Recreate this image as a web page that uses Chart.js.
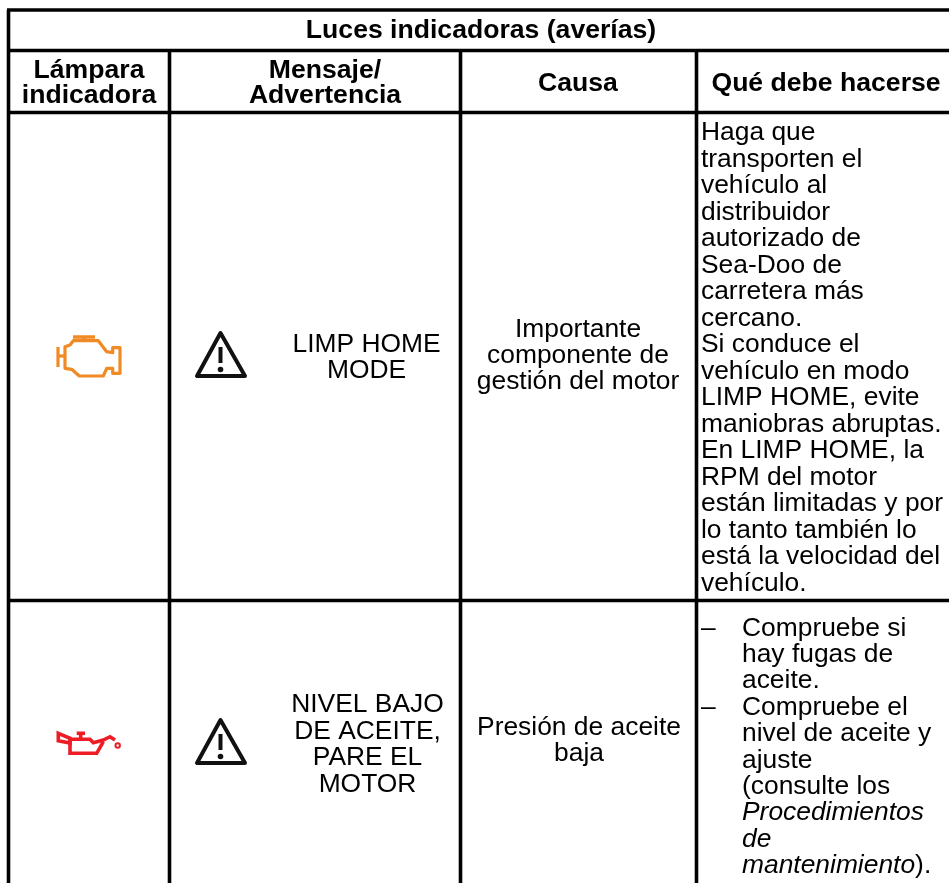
<!DOCTYPE html>
<html>
<head>
<meta charset="utf-8">
<script src="https://cdn.jsdelivr.net/npm/chart.js@4"></script>
<style>
  html, body { margin: 0; padding: 0; background: #fff; }
  #wrap { width: 949px; height: 883px; }
</style>
</head>
<body>
<div id="wrap"><canvas id="myChart" width="949" height="883"></canvas></div>
<script>
// table content
var title = "Luces indicadoras (averías)";
var headers = [["Lámpara", "indicadora"], ["Mensaje/", "Advertencia"], ["Causa"], ["Qué debe hacerse"]];
var messages = [["LIMP HOME", "MODE"], ["NIVEL BAJO", "DE ACEITE,", "PARE EL", "MOTOR"]];
var causes = [["Importante", "componente de", "gestión del motor"], ["Presión de aceite", "baja"]];
var actionsFirst = ["Haga que", "transporten el", "vehículo al", "distribuidor", "autorizado de", "Sea-Doo de",
  "carretera más", "cercano.", "Si conduce el", "vehículo en modo", "LIMP HOME, evite", "maniobras abruptas.",
  "En LIMP HOME, la", "RPM del motor", "están limitadas y por", "lo tanto también lo", "está la velocidad del", "vehículo."];
var actionsSecond = [["–", "Compruebe si"], ["", "hay fugas de"], ["", "aceite."], ["–", "Compruebe el"],
  ["", "nivel de aceite y"], ["", "ajuste"], ["", "(consulte los"], ["", "Procedimientos", "i"], ["", "de", "i"],
  ["", "mantenimiento", "i", ")."]];

// layout, in page pixels
var colEdges = [8.5, 169.5, 460.5, 696.5];
var rowEdges = [10, 50.5, 112.5, 600.5];
var pageW = 949, pageH = 883;
var fontFamily = '"Liberation Sans", Arial, sans-serif';

function rule(x1, y1, x2, y2) {
  return { type: 'line', data: [{x: x1, y: y1}, {x: x2, y: y2}], borderColor: '#000', borderWidth: 3.6, pointRadius: 0, borderCapStyle: 'butt' };
}
var rules = [
  rule(colEdges[0] - 1.5, rowEdges[0], pageW, rowEdges[0]),
  rule(colEdges[0] - 1.5, rowEdges[1], pageW, rowEdges[1]),
  rule(colEdges[0] - 1.5, rowEdges[2], pageW, rowEdges[2]),
  rule(colEdges[0] - 1.5, rowEdges[3], pageW, rowEdges[3]),
  rule(colEdges[0], rowEdges[0], colEdges[0], pageH),
  rule(colEdges[1], rowEdges[1], colEdges[1], pageH),
  rule(colEdges[2], rowEdges[1], colEdges[2], pageH),
  rule(colEdges[3], rowEdges[1], colEdges[3], pageH)
];

function drawLines(ctx, lines, cx, firstBase, step, font) {
  ctx.font = font;
  ctx.textAlign = 'center';
  lines.forEach(function (t, i) { ctx.fillText(t, cx, firstBase + i * step); });
}

function poly(ctx, pts, close) {
  ctx.beginPath();
  pts.forEach(function (p, i) { i ? ctx.lineTo(p[0], p[1]) : ctx.moveTo(p[0], p[1]); });
  if (close) ctx.closePath();
  ctx.stroke();
}

function warning(ctx, oy) {
  // oy is the apex of the triangle
  ctx.save();
  ctx.filter = 'blur(0.5px)';
  ctx.strokeStyle = '#111';
  ctx.fillStyle = '#111';
  ctx.lineWidth = 4;
  ctx.lineJoin = 'round';
  poly(ctx, [[220.5, oy], [197, oy + 43], [245, oy + 43]], true);
  poly(ctx, [[220.5, oy + 14], [220.5, oy + 30]]);
  ctx.beginPath();
  ctx.arc(220.5, oy + 36.5, 2.8, 0, Math.PI * 2);
  ctx.fill();
  ctx.restore();
}

function engineIcon(ctx) {
  ctx.strokeStyle = '#f08a24';
  ctx.lineWidth = 3.2;
  ctx.lineJoin = 'round';
  poly(ctx, [[58, 347], [58, 367]]);
  poly(ctx, [[58, 356], [65, 356]]);
  poly(ctx, [[65, 346.7], [70, 345], [73.3, 340.7], [98.3, 340.7], [106.7, 351.7], [112.7, 352.7], [112.7, 347.7],
    [120, 347.7], [120, 373.3], [112.7, 373.3], [112.7, 368.3], [106.7, 368.3], [103.3, 376], [79.3, 376],
    [71.7, 369.3], [65, 368.3]], true);
  ctx.lineWidth = 3.5;
  poly(ctx, [[73, 337], [95, 337]]);
  poly(ctx, [[84, 337], [84, 341]]);
}

function oilIcon(ctx) {
  ctx.strokeStyle = '#ee1c25';
  ctx.lineWidth = 3.6;
  ctx.lineJoin = 'miter';
  poly(ctx, [[70, 739.3], [70, 753.3], [96.7, 753.3], [103.3, 741.7]]);
  poly(ctx, [[70, 739.3], [90, 739.3], [93.3, 742.7], [103.3, 740], [110, 736.7], [115, 740]]);
  poly(ctx, [[58.3, 733.3], [70, 738.3], [70, 743], [58.3, 740.7]], true);
  poly(ctx, [[76.7, 733.3], [85, 733.3]]);
  poly(ctx, [[80.7, 733.3], [80.7, 739]]);
  ctx.lineWidth = 2;
  ctx.beginPath();
  ctx.arc(117.7, 745.5, 2.2, 0, Math.PI * 2);
  ctx.stroke();
}

var tablePlugin = {
  id: 'tablePlugin',
  afterDatasetsDraw: function (chart) {
    var ctx = chart.ctx;
    var sx = chart.scales.x, sy = chart.scales.y;
    ctx.save();
    ctx.fillStyle = '#000';
    ctx.textBaseline = 'alphabetic';
    var bold = 'bold 26.6px ' + fontFamily;
    var body = '26.4px ' + fontFamily;

    drawLines(ctx, [title], sx.getPixelForValue(481), sy.getPixelForValue(38), 24, bold);
    drawLines(ctx, headers[0], sx.getPixelForValue(89), sy.getPixelForValue(78), 25, bold);
    drawLines(ctx, headers[1], sx.getPixelForValue(325), sy.getPixelForValue(78), 25, bold);
    drawLines(ctx, headers[2], sx.getPixelForValue(578), sy.getPixelForValue(91), 25, bold);
    drawLines(ctx, headers[3], sx.getPixelForValue(826), sy.getPixelForValue(91), 25, bold);

    drawLines(ctx, messages[0], sx.getPixelForValue(366.5), sy.getPixelForValue(352), 26.4, body);
    drawLines(ctx, messages[1], sx.getPixelForValue(367.5), sy.getPixelForValue(712), 26.5, body);
    drawLines(ctx, causes[0], sx.getPixelForValue(578), sy.getPixelForValue(336.5), 26.2, body);
    drawLines(ctx, causes[1], sx.getPixelForValue(579), sy.getPixelForValue(735), 26.4, body);

    ctx.textAlign = 'left';
    ctx.font = body;
    actionsFirst.forEach(function (t, i) {
      ctx.fillText(t, sx.getPixelForValue(701), sy.getPixelForValue(140 + i * 26.5));
    });
    actionsSecond.forEach(function (row, i) {
      var y = sy.getPixelForValue(635.5 + i * 26.4);
      ctx.font = body;
      if (row[0]) ctx.fillText(row[0], sx.getPixelForValue(701), y);
      ctx.font = row[2] ? 'italic 26.4px ' + fontFamily : body;
      var x = sx.getPixelForValue(742);
      ctx.fillText(row[1], x, y);
      if (row[3]) {
        var w = ctx.measureText(row[1]).width;
        ctx.font = body;
        ctx.fillText(row[3], x + w, y);
      }
    });

    engineIcon(ctx);
    oilIcon(ctx);
    warning(ctx, 333);
    warning(ctx, 720);
    ctx.restore();
  }
};

var ctx = document.getElementById("myChart");
var myChart = new Chart(ctx, {
  type: 'scatter',
  data: { datasets: rules },
  options: {
    responsive: false,
    animation: false,
    layout: { padding: 0 },
    plugins: { legend: { display: false }, tooltip: { enabled: false }, title: { display: false } },
    scales: {
      x: { type: 'linear', display: false, min: 0, max: pageW },
      y: { type: 'linear', display: false, min: 0, max: pageH, reverse: true }
    }
  },
  plugins: [tablePlugin]
});
</script>
</body>
</html>
